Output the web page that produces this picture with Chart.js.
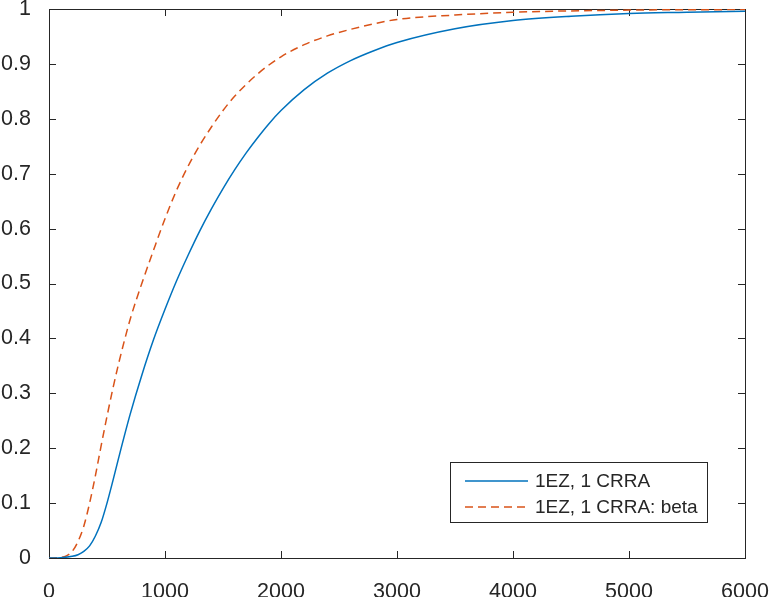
<!DOCTYPE html>
<html>
<head>
<meta charset="utf-8">
<script src="https://cdn.jsdelivr.net/npm/chart.js@4.4.1/dist/chart.umd.min.js"></script>
<style>
  html, body { margin: 0; padding: 0; background: #fff; }
  #wrap { width: 769px; height: 597px; }
</style>
</head>
<body>
<div id="wrap"><canvas id="cdf"></canvas></div>
<script>
// values
const xBlue = [0, 100, 200, 250, 300, 350, 400, 450, 500, 550, 600, 700, 800, 900, 1000, 1100, 1200, 1300, 1400, 1500, 1600, 1700, 1800, 1900, 2000, 2200, 2400, 2600, 2800, 3000, 3500, 4000, 4500, 5000, 5500, 6000];
const yBlue = [0, 0.0005, 0.003, 0.006, 0.012, 0.022, 0.04, 0.065, 0.1, 0.14, 0.182, 0.262, 0.333, 0.397, 0.453, 0.505, 0.552, 0.596, 0.636, 0.673, 0.707, 0.738, 0.766, 0.792, 0.815, 0.853, 0.883, 0.906, 0.924, 0.939, 0.964, 0.979, 0.987, 0.992, 0.994, 0.996];

const xBeta = [0, 100, 150, 200, 250, 300, 350, 400, 450, 500, 550, 600, 650, 700, 800, 900, 1000, 1100, 1200, 1300, 1400, 1500, 1600, 1800, 2000, 2200, 2400, 2600, 2800, 3000, 3500, 4000, 5000, 6000];
const yBeta = [0, 0.001, 0.004, 0.012, 0.03, 0.058, 0.1, 0.15, 0.205, 0.258, 0.308, 0.354, 0.396, 0.435, 0.5, 0.56, 0.618, 0.67, 0.714, 0.752, 0.785, 0.815, 0.841, 0.882, 0.913, 0.935, 0.951, 0.963, 0.973, 0.981, 0.989, 0.994, 0.998, 0.999];

const seriesNames = ['1EZ, 1 CRRA', '1EZ, 1 CRRA: beta'];
const xTickLabels = ['0', '1000', '2000', '3000', '4000', '5000', '6000'];
const yTickLabels = ['0', '0.1', '0.2', '0.3', '0.4', '0.5', '0.6', '0.7', '0.8', '0.9', '1'];

const axisColor = '#262626';
const fontFamily = '"Liberation Sans", Arial, Helvetica, sans-serif';

const toPoints = (xs, ys) => xs.map((x, i) => ({ x, y: ys[i] }));

// matlab style box with ticks pointing inwards
const boxPlugin = {
  id: 'box',
  beforeDatasetsDraw(chart) {
    const { ctx, chartArea: a, scales } = chart;
    ctx.save();
    ctx.strokeStyle = axisColor;
    ctx.lineWidth = 1;
    ctx.beginPath();
    scales.x.ticks.forEach(t => {
      const px = Math.round(scales.x.getPixelForValue(t.value)) + 0.5;
      ctx.moveTo(px, a.bottom); ctx.lineTo(px, a.bottom - 7);
      ctx.moveTo(px, a.top); ctx.lineTo(px, a.top + 7);
    });
    scales.y.ticks.forEach(t => {
      const py = Math.round(scales.y.getPixelForValue(t.value)) + 0.5;
      ctx.moveTo(a.left, py); ctx.lineTo(a.left + 7, py);
      ctx.moveTo(a.right, py); ctx.lineTo(a.right - 7, py);
    });
    ctx.stroke();
    ctx.strokeRect(Math.round(a.left) + 0.5, Math.round(a.top) + 0.5,
      Math.round(a.right - a.left), Math.round(a.bottom - a.top));
    ctx.restore();
  }
};

// legend box in the lower right corner
const legendPlugin = {
  id: 'boxLegend',
  afterDraw(chart) {
    const { ctx, chartArea: a } = chart;
    const w = 257, h = 60;
    const x0 = a.right - 38 - w, y0 = a.bottom - 36 - h;
    ctx.save();
    ctx.fillStyle = '#fff';
    ctx.fillRect(x0, y0, w, h);
    ctx.strokeStyle = axisColor;
    ctx.lineWidth = 1;
    ctx.strokeRect(Math.round(x0) + 0.5, Math.round(y0) + 0.5, w, h);
    ctx.font = '19px ' + fontFamily;
    ctx.textBaseline = 'middle';
    chart.data.datasets.forEach((ds, i) => {
      const cy = y0 + 19 + i * 26;
      ctx.strokeStyle = ds.borderColor;
      ctx.lineWidth = ds.borderWidth;
      ctx.setLineDash(ds.borderDash || []);
      ctx.beginPath();
      ctx.moveTo(x0 + 15, cy);
      ctx.lineTo(x0 + 78, cy);
      ctx.stroke();
      ctx.setLineDash([]);
      ctx.fillStyle = axisColor;
      ctx.fillText(ds.label, x0 + 85, cy + 1);
    });
    ctx.restore();
  }
};

new Chart(document.getElementById('cdf'), {
  type: 'line',
  data: {
    datasets: [
      {
        label: seriesNames[0],
        data: toPoints(xBlue, yBlue),
        borderColor: '#0072BD',
        borderWidth: 1.5,
        pointRadius: 0,
        cubicInterpolationMode: 'monotone',
        fill: false
      },
      {
        label: seriesNames[1],
        data: toPoints(xBeta, yBeta),
        borderColor: '#D95319',
        borderWidth: 1.5,
        borderDash: [8, 5],
        pointRadius: 0,
        cubicInterpolationMode: 'monotone',
        fill: false
      }
    ]
  },
  options: {
    responsive: true,
    maintainAspectRatio: false,
    animation: false,
    layout: { padding: { top: 9, right: 24, left: 0, bottom: 0 } },
    plugins: {
      legend: { display: false },
      tooltip: { enabled: false }
    },
    scales: {
      x: {
        type: 'linear',
        min: 0,
        max: 6000,
        grid: { display: false },
        border: { display: false },
        afterFit: s => { s.height = 39; s.paddingLeft = 0; s.paddingRight = 0; },
        ticks: {
          stepSize: 1000,
          padding: 13,
          maxRotation: 0,
          color: axisColor,
          font: { family: fontFamily, size: 21.5 },
          callback: (v, i) => xTickLabels[i]
        }
      },
      y: {
        type: 'linear',
        min: 0,
        max: 1,
        grid: { display: false },
        border: { display: false },
        afterFit: s => { s.width = 49; s.paddingTop = 0; s.paddingBottom = 0; },
        ticks: {
          stepSize: 0.1,
          padding: 10,
          color: axisColor,
          font: { family: fontFamily, size: 21.5 },
          callback: (v, i) => yTickLabels[i]
        }
      }
    }
  },
  plugins: [boxPlugin, legendPlugin]
});
</script>
</body>
</html>
